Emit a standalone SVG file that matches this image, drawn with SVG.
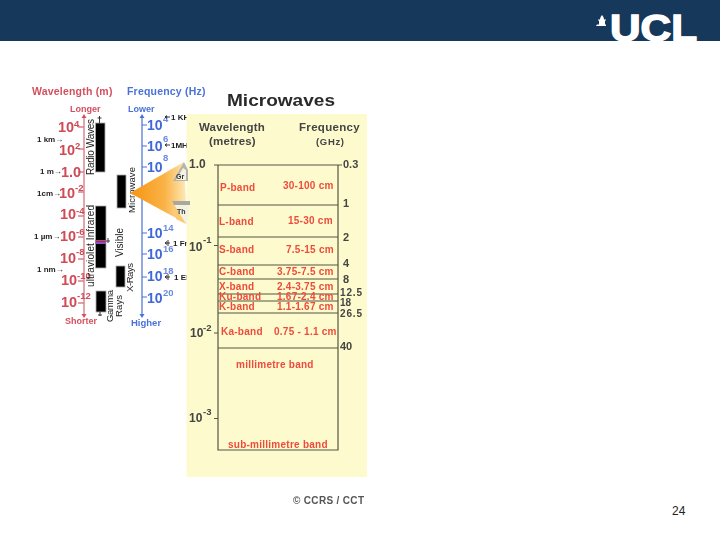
<svg xmlns="http://www.w3.org/2000/svg" width="720" height="540" viewBox="0 0 720 540">
<style>
text{font-family:"Liberation Sans",Arial,sans-serif}
.hd{font-size:10.500px;font-weight:bold;letter-spacing:.2px}
.hs{font-size:9px;font-weight:bold}
.r{fill:#d2505f}.b{fill:#4a72d8}
.pw{font-weight:bold;font-size:14.500px;fill:#cf4b55}
.pf{font-weight:bold;font-size:14px;fill:#3f68d6}
.sw{font-weight:bold;font-size:9.500px;fill:#cf4b55}
.sf{font-weight:bold;font-size:9.500px;fill:#6a8ae0}
.k{font-size:8px;font-weight:bold;fill:#222}
.v{font-size:10px;fill:#222}
.c{font-size:10px;font-weight:bold;fill:#ee4b3e;letter-spacing:.25px}
.g{font-size:11px;font-weight:bold;fill:#444}
.gs{font-size:10px;font-weight:bold;fill:#444}
.h2{font-size:11.500px;font-weight:bold;fill:#444;letter-spacing:.3px}
.t{font-size:12px;font-weight:bold;fill:#444}
.ts{font-size:9.500px;font-weight:bold;fill:#444}
.ln{stroke:#555540;stroke-width:1.2;fill:none}
.blk{fill:#050505;stroke:#aaa;stroke-width:.8}
.rax{stroke:#d9808a;stroke-width:1.4;fill:none}
.bax{stroke:#4a72d8;stroke-width:1.2;fill:none}
.ar{stroke:#222;stroke-width:.9;fill:none}
.pk{font-size:7px;font-weight:bold;fill:#333}
</style>
<defs>
<linearGradient id="arrow" gradientUnits="userSpaceOnUse" x1="130" y1="193" x2="188" y2="193">
<stop offset="0" stop-color="#f59412"/><stop offset=".6" stop-color="#fab347"/><stop offset="1" stop-color="#fdeec0"/>
</linearGradient>
<filter id="soft" x="-2%" y="-2%" width="104%" height="104%"><feGaussianBlur stdDeviation="0.35"/></filter>
</defs>
<g id="header">
<rect width="720" height="41" fill="#16395b"/>
<text x="610" y="41" font-weight="bold" fill="#fff" stroke="#fff" stroke-width="1.400" textLength="87" lengthAdjust="spacingAndGlyphs" style="font-size:36px">UCL</text>
<path d="M596 26h10v-1.500h-1v-4h1v-1h-2c0-2-1-3-2-4.500c-1 1.500-2 2.500-2 4.500h-2v1h1v4h-2z" fill="#fff"/>
</g>
<g filter="url(#soft)">
<g id="spectrum">
<text x="32" y="95" class="hd r">Wavelength (m)</text>
<text x="127" y="95" class="hd b">Frequency (Hz)</text>
<text x="70" y="112" class="hs r">Longer</text>
<text x="128" y="112" class="hs b">Lower</text>
<text x="65" y="324" class="hs r">Shorter</text>
<text x="131" y="326" class="hs b" style="font-size:9.500px">Higher</text>
<rect class="blk" x="95.500" y="123" width="9.500" height="49"/>
<rect class="blk" x="117" y="175" width="9" height="33"/>
<rect class="blk" x="95.500" y="206" width="10.500" height="62"/>
<rect x="95.500" y="240" width="10.500" height="1.500" fill="#d04060"/><rect x="95.500" y="241.500" width="10.500" height="2.500" fill="#8a50c0"/>
<rect class="blk" x="116" y="266" width="9" height="21"/>
<rect class="blk" x="96" y="291" width="10" height="21"/>
<path class="ar" d="M99.500 116V123M97.500 118H101.500M100 312V316M98 315H102M108 238V243M106 241H110"/>
<path class="rax" d="M84 118V315M78 127H84M78 149H84M78 172H84M78 192H84M78 216H84M78 237H84M78 259H84M78 281H84M78 303H84"/>
<path d="M84 114l-2.500 4h5zM84 318l-2.500-4h5z" fill="#d2505f"/>
<path class="bax" d="M142 118V315M142 125H147M142 146H147M142 167H147M142 233H147M142 254H147M142 277H147M142 297H147"/>
<path d="M142 114l-2.500 4h5zM142 318l-2.500-4h5z" fill="#4a72d8"/>
<text class="pw" x="58" y="132">10</text><text class="sw" x="74" y="127">4</text>
<text class="pw" x="59" y="155">10</text><text class="sw" x="75" y="149">2</text>
<text class="pw" x="61" y="177">1.0</text>
<text class="pw" x="59" y="198">10</text><text class="sw" x="75" y="191">-2</text>
<text class="pw" x="60" y="219">10</text><text class="sw" x="76" y="214">-4</text>
<text class="pw" x="60" y="241">10</text><text class="sw" x="76" y="235">-6</text>
<text class="pw" x="60" y="263">10</text><text class="sw" x="76" y="255">-8</text>
<text class="pw" x="61" y="285">10</text><text class="sw" x="77" y="279">-10</text>
<text class="pw" x="61" y="307">10</text><text class="sw" x="77" y="299">-12</text>
<text class="pf" x="147" y="130">10</text><text class="sf" x="163" y="122">4</text>
<text class="pf" x="147" y="151">10</text><text class="sf" x="163" y="142">6</text>
<text class="pf" x="147" y="172">10</text><text class="sf" x="163" y="161">8</text>
<text class="pf" x="147" y="238">10</text><text class="sf" x="163" y="231">14</text>
<text class="pf" x="147" y="259">10</text><text class="sf" x="163" y="252">16</text>
<text class="pf" x="147" y="281">10</text><text class="sf" x="163" y="274">18</text>
<text class="pf" x="147" y="303">10</text><text class="sf" x="163" y="296">20</text>
<text class="k" x="37" y="142">1 km→</text>
<text class="k" x="40" y="174">1 m→</text>
<text class="k" x="37" y="196">1cm→</text>
<text class="k" x="34" y="239">1 µm→</text>
<text class="k" x="37" y="272">1 nm→</text>
<path class="ar" d="M170 117H165M167 115.500L165 117L167 118.500M170 145H165M167 143.500L165 145L167 146.500M170 243H165M167 241.500L165 243L167 244.500M168 240V246M170 277H165M167 275.500L165 277L167 278.500M168 274V280"/>
<text class="k" x="171" y="120">1 KH</text>
<text class="k" x="171" y="148">1MH</text>
<text class="k" x="173" y="246">1 Fr</text>
<text class="k" x="174" y="280">1 El</text>
<text class="v" transform="translate(94 175) rotate(-90)" textLength="56">Radio Waves</text>
<text class="v" transform="translate(94 287) rotate(-90)" textLength="82">ultraviolet Infrared</text>
<text class="v" style="font-size:9.500px" transform="translate(135 213) rotate(-90)" textLength="46">Microwave</text>
<text class="v" transform="translate(123 257) rotate(-90)" textLength="29">Visible</text>
<text class="v" style="font-size:9.500px" transform="translate(133 292) rotate(-90)" textLength="29">X-Rays</text>
<text class="v" style="font-size:9.500px" transform="translate(113 322) rotate(-90)" textLength="32">Gamma</text>
<text class="v" style="font-size:9.500px" transform="translate(122 317) rotate(-90)" textLength="22">Rays</text>
</g>
</g>
<g id="panel">
<rect x="186.500" y="114" width="180.500" height="363" fill="#fdfbcd"/>
</g>
<g id="pointer" filter="url(#soft)">
<path d="M130 193L184 162L187 224Z" fill="url(#arrow)"/>
<path d="M184 162L173 181H188V170Z" fill="#b5b5ad"/>
<path d="M183 168L176 180H186V170Z" fill="#f4f2e2"/>
<text class="pk" x="176" y="179">Gr</text>
<path d="M172 201H190L187 224L186 224Z" fill="#f4f2e2"/>
<path d="M172 201H190V205H174Z" fill="#a8a8a0"/>
<path d="M174 205L186 224L176 219Z" fill="#fbc96f"/>
<text class="pk" x="177" y="214">Th</text>
</g>
<g filter="url(#soft)">
<g id="microwaves">
<text x="227" y="106" font-weight="bold" fill="#2b2b2b" textLength="108" lengthAdjust="spacingAndGlyphs" style="font-size:17px">Microwaves</text>
<text x="199" y="131" class="h2" textLength="66">Wavelength</text>
<text x="209" y="145" class="h2" textLength="47">(metres)</text>
<text x="299" y="131" class="h2" textLength="61">Frequency</text>
<text x="316" y="145" class="ts" textLength="28">(GHz)</text>
<path class="ln" d="M214 165H342M218 165V450H338V165M218 205H338M218 237H338M218 265H338M218 279H338M218 294H338M218 301H338M218 313H338M218 348H338M214 245.500H218M214 333H218M214 418.500H218"/>
<text class="c" x="220" y="191">P-band</text><text class="c" x="283" y="189">30-100 cm</text>
<text class="c" x="219" y="225">L-band</text><text class="c" x="288" y="224">15-30 cm</text>
<text class="c" x="219" y="253">S-band</text><text class="c" x="286" y="253">7.5-15 cm</text>
<text class="c" x="219" y="275">C-band</text><text class="c" x="277" y="275">3.75-7.5 cm</text>
<text class="c" x="219" y="290">X-band</text><text class="c" x="277" y="290">2.4-3.75 cm</text>
<text class="c" x="219" y="300">Ku-band</text><text class="c" x="277" y="300">1.67-2.4 cm</text>
<text class="c" x="219" y="310">K-band</text><text class="c" x="277" y="310">1.1-1.67 cm</text>
<text class="c" x="221" y="335">Ka-band</text><text class="c" x="274" y="335">0.75 - 1.1 cm</text>
<text class="c" x="236" y="368">millimetre band</text>
<text class="c" x="228" y="448">sub-millimetre band</text>
<text class="t" x="189" y="168">1.0</text>
<text class="t" x="189" y="251">10</text><text x="203" y="243" class="ts">-1</text>
<text class="t" x="190" y="337">10</text><text x="203" y="331" class="ts">-2</text>
<text class="t" x="189" y="422">10</text><text x="203" y="415" class="ts">-3</text>
<text class="g" x="343" y="168">0.3</text>
<text class="g" x="343" y="207">1</text>
<text class="g" x="343" y="241">2</text>
<text class="g" x="343" y="267">4</text>
<text class="g" x="343" y="283">8</text>
<text class="gs" x="340" y="295.500" textLength="22">12.5</text>
<text class="gs" x="340" y="306">18</text>
<text class="gs" x="340" y="316.500" textLength="22">26.5</text>
<text class="g" x="340" y="350">40</text>
<text x="293" y="503.500" font-weight="bold" fill="#555" textLength="71" style="font-size:10px">© CCRS / CCT</text>
</g>
</g>
<text id="page" x="672" y="515" fill="#222" style="font-size:12px">24</text>
</svg>
